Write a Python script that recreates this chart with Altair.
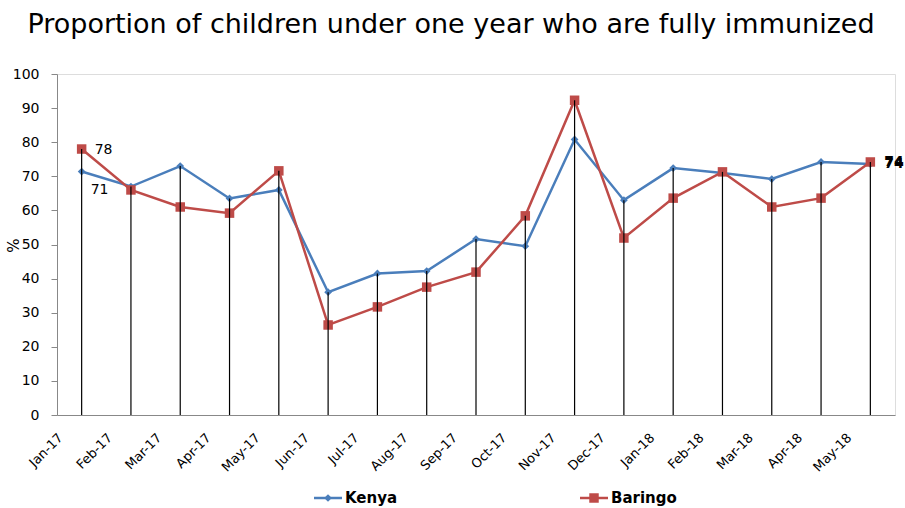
import altair as alt
import pandas as pd

months = ["Jan-17", "Feb-17", "Mar-17", "Apr-17", "May-17", "Jun-17", "Jul-17", "Aug-17",
          "Sep-17", "Oct-17", "Nov-17", "Dec-17", "Jan-18", "Feb-18", "Mar-18", "Apr-18", "May-18"]
kenya = [71.4, 67, 73, 63.5, 66, 36, 41.5, 42.2, 51.6, 49.5, 80.8, 63, 72.4, 71, 69.2, 74.2, 73.6]
baringo = [78, 66, 61, 59.2, 71.6, 26.4, 31.7, 37.5, 41.9, 58.4, 92.3, 51.9, 63.6, 71.3, 61, 63.6, 74.2]
series_names = ["Kenya", "Baringo"]
colors = ["#4A7EBB", "#BE4B48"]

df = pd.DataFrame({
    "month": months * 2,
    "series": ["Kenya"] * len(months) + ["Baringo"] * len(months),
    "value": kenya + baringo,
})
df_drop = pd.DataFrame({"month": months, "top": [max(a, b) for a, b in zip(kenya, baringo)], "zero": 0})

# data labels
lab = pd.DataFrame({
    "month": ["Jan-17", "Jan-17", "May-18", "May-18"],
    "value": [baringo[0], kenya[0], baringo[-1], kenya[-1]],
    "series": ["Baringo", "Kenya", "Baringo", "Kenya"],
})
lab["text"] = lab["value"].round().astype(int).astype(str)

FONT = "DejaVu Sans"
x = alt.X("month:N", sort=months, scale=alt.Scale(domain=months),
          axis=alt.Axis(title=None, labelAngle=-45, labelFontSize=13, labelFont=FONT,
                        labelColor="black", ticks=False, domainColor="#888888",
                        labelPadding=16, labelOffset=-25))
y = alt.Y("value:Q", scale=alt.Scale(domain=[0, 100]),
          axis=alt.Axis(values=list(range(0, 101, 10)), tickCount=11, labelOverlap=False,
                        grid=False, title="%",
                        titleFont=FONT, titleFontSize=15, titleFontWeight="normal",
                        titleX=-36, titleY=171, titleColor="black",
                        labelFont=FONT, labelFontSize=14, labelColor="black",
                        domainColor="#888888", tickColor="#888888", tickSize=6, labelPadding=12))
color = alt.Color("series:N", scale=alt.Scale(domain=series_names, range=colors), legend=None)

base = alt.Chart(df)
lines = base.mark_line(strokeWidth=2.5).encode(x=x, y=y, color=color, detail="series:N")
pts_k = base.transform_filter(alt.datum.series == "Kenya").mark_point(
    shape="diamond", filled=True, size=60, opacity=1).encode(x=x, y=y, color=color)
pts_b = base.transform_filter(alt.datum.series == "Baringo").mark_square(
    size=90, opacity=1).encode(x=x, y=y, color=color)
drops = alt.Chart(df_drop).mark_rule(color="black", strokeWidth=1.2).encode(
    x=alt.X("month:N", sort=months, scale=alt.Scale(domain=months)),
    y=alt.Y("top:Q"), y2="zero:Q")

labels_first = alt.Chart(lab.iloc[:1]).mark_text(align="left", dx=13, dy=1, fontSize=14, font=FONT, color="black").encode(
    x=alt.X("month:N", sort=months), y=alt.Y("value:Q"), text="text:N")
labels_k = alt.Chart(lab.iloc[1:2]).mark_text(align="left", dx=9, dy=18, fontSize=14, font=FONT, color="black").encode(
    x=alt.X("month:N", sort=months), y=alt.Y("value:Q"), text="text:N")
labels_last = alt.Chart(lab.iloc[2:]).mark_text(align="left", dx=14, fontSize=14, font=FONT, color="black", fontWeight="bold").encode(
    x=alt.X("month:N", sort=months), y=alt.Y("value:Q"), text="text:N")

# manual legend
leg = pd.DataFrame({"series": series_names, "lx": [257, 523]})
leg_line = alt.Chart(leg).mark_rule(strokeWidth=2.5).encode(
    x=alt.X("lx:Q", scale=None), x2=alt.X2("lx2:Q"), y=alt.value(424), color=color
).transform_calculate(lx2="datum.lx + 28")
leg_k = alt.Chart(leg.iloc[:1]).mark_point(shape="diamond", filled=True, size=60, opacity=1).encode(
    x=alt.X("mx:Q", scale=None), y=alt.value(424), color=color).transform_calculate(mx="datum.lx + 14")
leg_b = alt.Chart(leg.iloc[1:]).mark_square(size=90, opacity=1).encode(
    x=alt.X("mx:Q", scale=None), y=alt.value(424), color=color).transform_calculate(mx="datum.lx + 14")
leg_text = alt.Chart(leg).mark_text(align="left", baseline="middle", fontSize=15, fontWeight="bold",
                                    font=FONT, color="black").encode(
    x=alt.X("tx:Q", scale=None), y=alt.value(424), text="series:N").transform_calculate(tx="datum.lx + 31")

chart = alt.layer(lines, pts_k, pts_b, drops, labels_first, labels_k, labels_last,
                  leg_line, leg_k, leg_b, leg_text).properties(
    width=838, height=341,
    title=alt.TitleParams("Proportion of children under one year who are fully immunized",
                          fontSize=27, font=FONT, fontWeight="normal", color="black",
                          anchor="middle", offset=28, dx=-25),
    autosize=alt.AutoSizeParams(type="none"),
    padding={"left": 57, "top": 74, "right": 10, "bottom": 93},
).configure_view(stroke=None).configure(background="white")

chart.save("out.html", embed_options={"renderer": "svg", "actions": False})
